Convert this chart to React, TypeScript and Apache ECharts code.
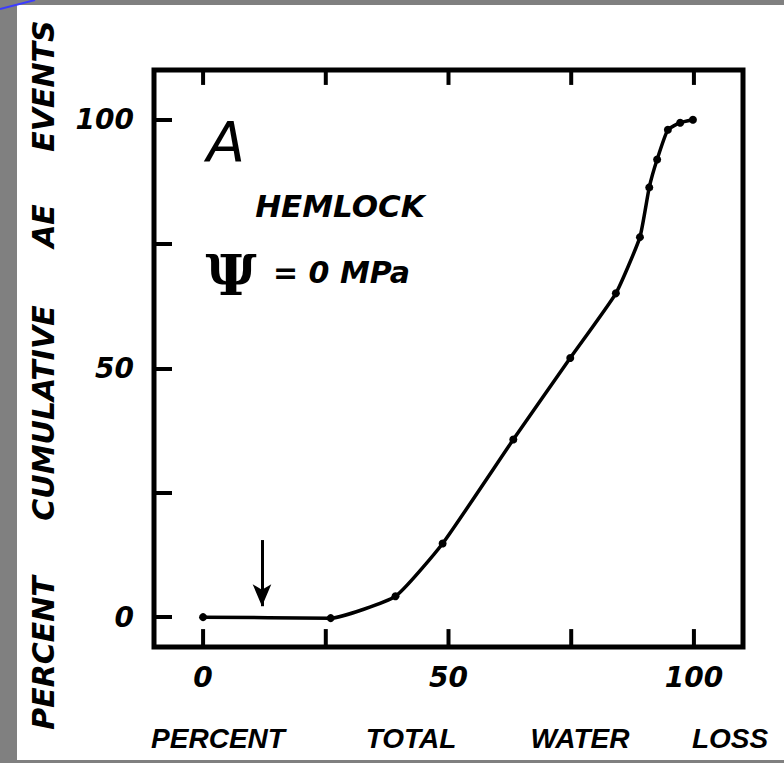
import React, { useEffect, useRef } from "react";
import * as echarts from "echarts";

const waterLoss = [0, 26, 39.2, 48.8, 63.2, 74.8, 84.1, 89.0, 90.9, 92.5, 94.7, 97.2, 99.8];
const aeEvents = [0, -0.2, 4.2, 14.8, 35.7, 52.1, 65.1, 76.4, 86.4, 92.0, 98.0, 99.4, 100];
const tickValues = [0, 25, 50, 75, 100];
const labelValues = [0, 50, 100];
const xTitleWords = ["PERCENT", "TOTAL", "WATER", "LOSS"];
const yTitleWords = ["PERCENT", "CUMULATIVE", "AE", "EVENTS"];
const arrowX = 12;
const arrowFrom = 15.5;
const arrowTo = 2.2;

const X_MIN = -10;
const X_MAX = 110;
const Y_MIN = -6;
const Y_MAX = 110;

export default function App() {
  const ref = useRef<HTMLDivElement>(null);
  useEffect(() => {
    if (!ref.current) return;
    const chart = echarts.init(ref.current, undefined, { renderer: "svg" });
    const bi = (s: number, fam = '"DejaVu Sans"') => `italic bold ${s}px ${fam}`;
    const xCenters = [218, 411, 580, 730];
    const yCenters = [653, 413, 226, 86];
    const axisLabelStyle = {
      color: "#000",
      fontFamily: "DejaVu Sans",
      fontStyle: "italic" as const,
      fontWeight: "bold" as const,
      fontSize: 28,
    };
    const tickSeries: any[] = [];
    tickValues.forEach((v) => {
      tickSeries.push({
        type: "line",
        data: [
          [v, Y_MIN + 0.4],
          [v, Y_MIN + 3.6],
        ],
        symbol: "none",
        silent: true,
        clip: false,
        z: 5,
        lineStyle: { color: "#000", width: 4 },
      });
      tickSeries.push({
        type: "line",
        data: [
          [v, Y_MAX - 0.4],
          [v, Y_MAX - 3.0],
        ],
        symbol: "none",
        silent: true,
        clip: false,
        z: 5,
        lineStyle: { color: "#000", width: 4 },
      });
    });
    chart.setOption({
      animation: false,
      backgroundColor: "transparent",
      grid: {
        left: 154,
        top: 70,
        right: 41,
        bottom: 116,
        show: true,
        borderColor: "#000",
        borderWidth: 5,
        backgroundColor: "transparent",
      },
      xAxis: {
        type: "value",
        min: X_MIN,
        max: X_MAX,
        splitLine: { show: false },
        axisLine: { show: false, onZero: false },
        axisTick: { show: false },
        axisLabel: { ...axisLabelStyle, margin: 16, customValues: labelValues },
      },
      yAxis: {
        type: "value",
        min: Y_MIN,
        max: Y_MAX,
        splitLine: { show: false },
        axisLine: { show: false, onZero: false },
        axisTick: {
          show: true,
          inside: true,
          length: 18,
          customValues: tickValues,
          lineStyle: { color: "#000", width: 4 },
        },
        axisLabel: { ...axisLabelStyle, margin: 20, customValues: labelValues },
      },
      series: [
        {
          type: "line",
          data: waterLoss.map((x, i) => [x, aeEvents[i]]),
          smooth: 0.15,
          symbol: "circle",
          symbolSize: 8,
          itemStyle: { color: "#000" },
          lineStyle: { color: "#000", width: 3.5 },
          markLine: {
            silent: true,
            symbol: ["none", "arrow"],
            symbolSize: [14, 22],
            label: { show: false },
            lineStyle: { color: "#000", width: 3, type: "solid" },
            data: [[{ coord: [arrowX, arrowFrom] }, { coord: [arrowX, arrowTo] }]],
          },
        },
        ...tickSeries,
      ],
      graphic: [
        {
          type: "line",
          shape: { x1: 0, y1: 9, x2: 35, y2: 0 },
          style: { stroke: "#3b3bff", lineWidth: 2 },
        },
        ...xTitleWords.map((w, i) => ({
          type: "text",
          x: xCenters[i],
          y: 738,
          style: {
            text: w,
            fill: "#000",
            font: bi(28, '"Liberation Sans"'),
            textAlign: "center",
            textVerticalAlign: "middle",
          },
        })),
        ...yTitleWords.map((w, i) => ({
          type: "text",
          x: 43,
          y: yCenters[i],
          rotation: Math.PI / 2,
          style: {
            text: w,
            fill: "#000",
            font: bi(30),
            textAlign: "center",
            textVerticalAlign: "middle",
          },
        })),
        {
          type: "text",
          x: 226,
          y: 141,
          style: {
            text: "A",
            fill: "#000",
            font: 'italic normal 56px "DejaVu Sans"',
            textAlign: "center",
            textVerticalAlign: "middle",
          },
        },
        {
          type: "text",
          x: 340,
          y: 206,
          style: {
            text: "HEMLOCK",
            fill: "#000",
            font: bi(31),
            textAlign: "center",
            textVerticalAlign: "middle",
          },
        },
        {
          type: "text",
          x: 231,
          y: 275,
          style: {
            text: "Ψ",
            fill: "#000",
            font: 'bold 56px "DejaVu Serif"',
            textAlign: "center",
            textVerticalAlign: "middle",
          },
        },
        {
          type: "text",
          x: 273,
          y: 272,
          style: {
            text: "= 0 MPa",
            fill: "#000",
            font: bi(30),
            textAlign: "left",
            textVerticalAlign: "middle",
          },
        },
      ],
    });
    return () => chart.dispose();
  }, []);
  return (
    <div style={{ position: "absolute", left: 0, top: 0, width: 784, height: 763, background: "#808080" }}>
      <div style={{ position: "absolute", left: 17, top: 5, width: 767, height: 755, background: "#fff" }} />
      <div ref={ref} style={{ position: "absolute", left: 0, top: 0, width: 784, height: 763 }} />
    </div>
  );
}
